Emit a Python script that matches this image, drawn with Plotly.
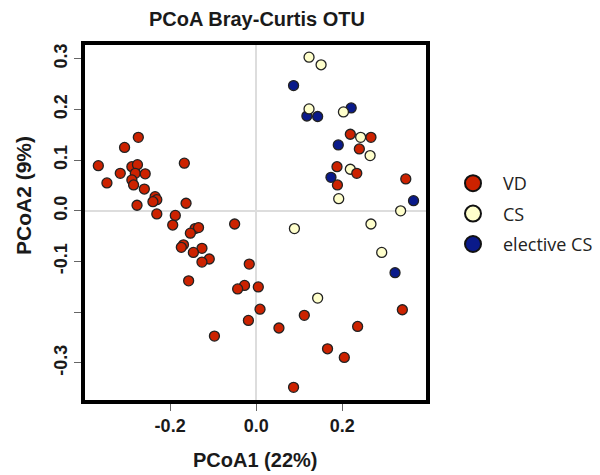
import plotly.graph_objects as go

vd_x = [-0.274, -0.306, -0.367, -0.167, -0.316, -0.347, -0.289, -0.276, -0.281, -0.258,
        -0.289, -0.285, -0.260, -0.235, -0.231, -0.240, -0.277, -0.163, -0.231, -0.188,
        -0.194, -0.142, -0.134, -0.153, -0.169, -0.174, -0.126, -0.146, -0.109, -0.126,
        -0.157, -0.050, -0.016, -0.027, -0.043, 0.005, 0.009, -0.018, -0.097, 0.112,
        0.053, 0.236, 0.166, 0.205, 0.087, 0.340, 0.219, 0.267, 0.240, 0.188,
        0.234, 0.189, 0.348]
vd_y = [0.145, 0.125, 0.089, 0.094, 0.074, 0.055, 0.087, 0.091, 0.074, 0.073,
        0.061, 0.051, 0.043, 0.028, 0.022, 0.018, 0.011, 0.015, -0.006, -0.009,
        -0.028, -0.035, -0.033, -0.044, -0.067, -0.072, -0.074, -0.082, -0.095, -0.101,
        -0.138, -0.026, -0.105, -0.147, -0.154, -0.150, -0.194, -0.216, -0.247, -0.206,
        -0.231, -0.228, -0.272, -0.289, -0.348, -0.195, 0.151, 0.145, 0.122, 0.087,
        0.074, 0.051, 0.063]

cs_x = [0.089, 0.143, 0.292, 0.267, 0.336, 0.123, 0.151, 0.123, 0.203, 0.243, 0.265, 0.219, 0.192]
cs_y = [-0.035, -0.172, -0.082, -0.026, 0.000, 0.303, 0.288, 0.201, 0.195, 0.145, 0.109, 0.082, 0.024]

ecs_x = [0.323, 0.366, 0.087, 0.118, 0.143, 0.221, 0.191, 0.174]
ecs_y = [-0.122, 0.020, 0.247, 0.187, 0.186, 0.203, 0.130, 0.066]

groups = ["VD", "CS", "elective CS"]
colors = {"VD": "#CC2200", "CS": "#FFFFCC", "elective CS": "#0A1A8A"}

x_ticks = [-0.2, 0.0, 0.2]
x_labels = ["-0.2", "0.0", "0.2"]
y_ticks = [0.3, 0.2, 0.1, 0.0, -0.1, -0.2, -0.3]
y_labels = ["0.3", "0.2", "0.1", "0.0", "-0.1", "", "-0.3"]

data = {"VD": (vd_x, vd_y), "CS": (cs_x, cs_y), "elective CS": (ecs_x, ecs_y)}

W, H = 600, 475
L, R, T, B = 85, 174, 45, 75

fig = go.Figure()
for g in ["elective CS", "CS", "VD"]:
    xs, ys = data[g]
    fig.add_trace(go.Scatter(
        x=xs, y=ys, mode="markers", name=g, showlegend=False, hoverinfo="skip",
        marker=dict(size=10, color=colors[g], line=dict(color="#222222", width=1.3)),
    ))
for i, g in enumerate(groups):
    fig.add_trace(go.Scatter(
        x=[None], y=[None], mode="markers", name=g, legendrank=i + 1, legendgroup=g,
        marker=dict(size=16, color=colors[g], line=dict(color="#111111", width=2)),
    ))

pw = W - L - R
ph = H - T - B

def px2paper_x(px):
    return (px - L) / pw

def px2paper_y(py):
    return (H - B - py) / ph

fig.update_layout(
    width=W, height=H,
    margin=dict(l=L, r=R, t=T, b=B, autoexpand=False),
    paper_bgcolor="white", plot_bgcolor="white",
    title=dict(text="<b>PCoA Bray-Curtis OTU</b>", x=257 / W, xanchor="center",
               y=1 - 19 / H, yanchor="middle",
               font=dict(family="Liberation Sans", size=20, color="#1a1a1a")),
    showlegend=True,
    legend=dict(x=px2paper_x(443), y=px2paper_y(214), xanchor="left", yanchor="middle",
                font=dict(family="Open Sans", size=18, color="#222222"),
                itemwidth=50, tracegroupgap=4, bgcolor="rgba(0,0,0,0)"),
    font=dict(family="Liberation Sans", color="#1a1a1a"),
    annotations=[
        dict(text="<b>PCoA1 (22%)</b>", xref="paper", yref="paper",
             x=px2paper_x(255), y=px2paper_y(460), xanchor="center", yanchor="middle",
             showarrow=False, font=dict(size=20, family="Liberation Sans", color="#1a1a1a")),
        dict(text="<b>PCoA2 (9%)</b>", xref="paper", yref="paper", textangle=-90,
             x=px2paper_x(23), y=px2paper_y(196), xanchor="center", yanchor="middle",
             showarrow=False, font=dict(size=21, family="Liberation Sans", color="#1a1a1a")),
    ],
)
fig.update_xaxes(
    range=[-0.398, 0.395], tickvals=x_ticks, ticktext=["<b>%s</b>" % t for t in x_labels],
    tickfont=dict(size=18, family="Liberation Sans", color="#1a1a1a"),
    ticks="outside", ticklen=7, tickcolor="#666666", tickwidth=1.2,
    showline=True, linecolor="black", linewidth=3.5, mirror=True,
    showgrid=False, zeroline=True, zerolinecolor="#DDDDDD", zerolinewidth=1.5,
    automargin=False,
)
fig.update_yaxes(
    range=[-0.373, 0.327], tickvals=y_ticks,
    ticktext=["<b>%s</b>" % t if t else "" for t in y_labels], tickangle=-90,
    tickfont=dict(size=18, family="Liberation Sans", color="#1a1a1a"),
    ticks="outside", ticklen=7, tickcolor="#666666", tickwidth=1.2,
    showline=True, linecolor="black", linewidth=3.5, mirror=True,
    showgrid=False, zeroline=True, zerolinecolor="#DDDDDD", zerolinewidth=1.5,
    automargin=False,
)
fig.write_html("out.html", config={"displayModeBar": False},
               post_script="document.body.style.margin='0';")
